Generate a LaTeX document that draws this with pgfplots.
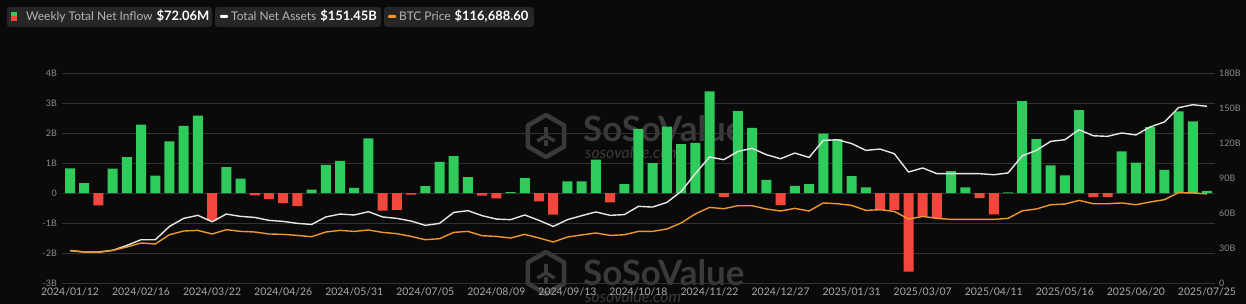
\documentclass[border=0pt]{standalone}
\usepackage{pgfplots}
\pgfplotsset{compat=1.18}
\usepackage{pgfplotstable}
\usepackage{fontspec}
\setmainfont{Lato}
\definecolor{bg}{HTML}{0A0A0A}
\definecolor{gridc}{HTML}{323232}
\definecolor{tickc}{HTML}{8A8A8A}
\definecolor{xtickc}{HTML}{A8A8A8}
\definecolor{upc}{HTML}{2FCB5B}
\definecolor{downc}{HTML}{F2473D}
\definecolor{btcc}{HTML}{F0962C}
\definecolor{tnac}{HTML}{E6E6E6}
\definecolor{legbg}{HTML}{262626}
\definecolor{legtxt}{HTML}{B4B4B4}
\definecolor{wm}{HTML}{3A3A3A}

\pgfplotstableread{
i flow assets btc
0 0.82 27.7 42700
1 0.33 26.6 40600
2 -0.41 26.6 40100
3 0.81 28.0 42700
4 1.20 32.2 47100
5 2.28 37.1 52400
6 0.58 37.1 51100
7 1.72 48.5 63200
8 2.24 55.4 68100
9 2.58 58.0 68900
10 -0.92 52.5 64200
11 0.86 59.1 69800
12 0.48 57.1 67600
13 -0.08 56.2 66800
14 -0.20 53.7 64200
15 -0.33 52.8 63700
16 -0.44 51.1 62300
17 0.11 50.2 60600
18 0.94 56.6 66800
19 1.07 59.1 68900
20 0.17 58.3 67600
21 1.82 61.1 69400
22 -0.59 56.6 66300
23 -0.56 55.4 64600
24 -0.05 53.1 61000
25 0.23 49.4 56700
26 1.04 51.1 58000
27 1.23 60.5 66300
28 0.53 62.0 67600
29 -0.09 57.7 61900
30 -0.18 54.8 61000
31 0.03 54.3 58900
32 0.50 58.3 63700
33 -0.28 53.7 58900
34 -0.72 48.5 53700
35 0.39 54.3 60200
36 0.39 57.7 62900
37 1.11 60.9 65500
38 -0.31 58.0 62300
39 0.30 58.6 63200
40 2.14 65.7 67600
41 1.00 65.1 67600
42 2.21 69.1 70700
43 1.63 78.5 78600
44 1.67 93.7 90500
45 3.39 108.0 99000
46 -0.13 105.7 97300
47 2.73 112.8 101200
48 2.17 115.4 101200
49 0.44 110.0 96900
50 -0.40 106.5 94300
51 0.24 111.4 97700
52 0.30 107.6 94300
53 1.98 122.2 104800
54 1.80 122.8 103800
55 0.56 119.5 101600
56 0.19 113.7 95100
57 -0.56 114.8 96000
58 -0.56 110.8 93800
59 -2.62 95.1 83800
60 -0.78 98.6 87200
61 -0.83 93.7 84600
62 0.73 93.7 83300
63 0.19 93.7 83300
64 -0.17 93.7 83300
65 -0.71 92.8 83300
66 0.02 94.3 84600
67 3.06 109.0 94500
68 1.80 113.7 96900
69 0.92 121.4 102500
70 0.59 122.8 103400
71 2.76 131.4 108200
72 -0.14 126.2 103800
73 -0.13 125.7 103800
74 1.39 128.6 104800
75 1.01 126.9 102500
76 2.20 133.8 106100
77 0.77 138.0 109100
78 2.72 150.3 118300
79 2.39 152.8 117900
80 0.07 151.45 116688.6
}\data

\begin{document}
\begin{tikzpicture}
% background
\fill[bg] (-62bp,-21bp) rectangle (1184bp,283bp);
% watermarks
\begin{scope}
\clip (-62bp,-21bp) rectangle (1184bp,283bp);
\foreach \yy/\ty in {147/154, 10/10} {
  \begin{scope}[shift={(484bp,\yy bp)}]
    \draw[wm, line width=4.5bp, line join=round] (90:21bp) -- (30:21bp) -- (-30:21bp) -- (-90:21bp) -- (-150:21bp) -- (150:21bp) -- cycle;
    \draw[wm, line width=3.5bp, line join=round] (-150:10bp) -- (0,0) -- (-30:10bp);
    \draw[wm, line width=3.5bp] (0,0) -- (90:9bp);
    \draw[wm, line width=3.5bp] (-90:10bp) -- (-90:4bp);
  \end{scope}
  \node[wm, anchor=west, inner sep=0pt, font=\fontsize{35}{36}\selectfont\bfseries] at (521bp,\ty bp) {SoSoValue};
}
\node[wm, anchor=west, inner sep=0pt, font=\fontsize{16}{18}\selectfont\itshape] at (523bp,130bp) {sosovalue.com};
\node[wm, anchor=west, inner sep=0pt, font=\fontsize{16}{18}\selectfont\itshape] at (523bp,-14bp) {sosovalue.com};
\end{scope}

% main axis: bars
\begin{axis}[
  at={(0,0)}, anchor=south west,
  scale only axis, width=1153bp, height=210bp,
  xmin=-0.563, xmax=80.563,
  ymin=-3, ymax=4,
  axis line style={draw=none},
  major tick length=0pt,
  ytick={-3,-2,...,4},
  yticklabels={-3B,-2B,-1B,0,1B,2B,3B,4B},
  ymajorgrids, grid style={gridc, line width=0.8bp},
  xtick={0,5,...,80},
  xticklabels={2024/01/12,2024/02/16,2024/03/22,2024/04/26,2024/05/31,2024/07/05,2024/08/09,2024/09/13,2024/10/18,2024/11/22,2024/12/27,2025/01/31,2025/03/07,2025/04/11,2025/05/16,2025/06/20,2025/07/25},
  xticklabel style={xtickc, font=\fontsize{10.5}{12}\selectfont, anchor=north, inner sep=0pt, yshift=-5bp},
  yticklabel style={tickc, font=\fontsize{9}{10}\selectfont, anchor=east, inner sep=0pt, xshift=-5bp},
  /pgf/number format/assume math mode=true,
  clip=false,
]
\addplot[ybar, bar width=10bp, bar shift=0pt, fill=upc, draw=none, restrict y to domain=0:10] table[x=i,y=flow]{\data};
\addplot[ybar, bar width=10bp, bar shift=0pt, fill=downc, draw=none, restrict y to domain=-10:0] table[x=i,y=flow]{\data};
\end{axis}

% right axis: total net assets
\begin{axis}[
  at={(0,0)}, anchor=south west,
  scale only axis, width=1153bp, height=210bp,
  xmin=-0.563, xmax=80.563,
  ymin=0, ymax=180,
  axis y line*=right, hide x axis,
  axis line style={draw=none},
  major tick length=0pt,
  ytick={0,30,...,180},
  yticklabels={0,30B,60B,90B,120B,150B,180B},
  yticklabel style={tickc, font=\fontsize{9}{10}\selectfont, anchor=west, inner sep=0pt, xshift=4bp},
  /pgf/number format/assume math mode=true,
]
\addplot[tnac, line width=1.4bp, line join=round] table[x=i,y=assets]{\data};
\end{axis}

% hidden axis: BTC price
\begin{axis}[
  at={(0,0)}, anchor=south west,
  scale only axis, width=1153bp, height=210bp,
  xmin=-0.563, xmax=80.563,
  ymin=0, ymax=275000,
  hide axis,
]
\addplot[btcc, line width=1.4bp, line join=round] table[x=i,y=btc]{\data};
\end{axis}

% legend boxes
\fill[legbg, rounded corners=3bp] (-55bp,256bp) rectangle (150bp,276bp);
\fill[upc] (-51bp,266.5bp) rectangle (-45bp,271bp);
\fill[downc] (-51bp,262bp) rectangle (-45bp,266.5bp);
\node[anchor=base west, inner sep=0pt] at (-36bp,262bp) {\fontsize{12}{14}\selectfont\color{legtxt}Weekly Total Net Inflow\hspace{4bp}\color{white}\fontsize{13}{14}\selectfont\bfseries \$72.06M};

\fill[legbg, rounded corners=3bp] (153bp,256bp) rectangle (319bp,276bp);
\fill[white, rounded corners=1bp] (158bp,265bp) rectangle (166bp,268bp);
\node[anchor=base west, inner sep=0pt] at (169bp,262bp) {\fontsize{12}{14}\selectfont\color{legtxt}Total Net Assets\hspace{4bp}\color{white}\fontsize{13}{14}\selectfont\bfseries \$151.45B};

\fill[legbg, rounded corners=3bp] (322bp,256bp) rectangle (472bp,276bp);
\fill[btcc, rounded corners=1bp] (326bp,265bp) rectangle (334bp,268bp);
\node[anchor=base west, inner sep=0pt] at (337bp,262bp) {\fontsize{12}{14}\selectfont\color{legtxt}BTC Price\hspace{4bp}\color{white}\fontsize{13}{14}\selectfont\bfseries \$116,688.60};

\pgfresetboundingbox
\useasboundingbox (-62bp,-21bp) rectangle (1184bp,283bp);
\end{tikzpicture}
\end{document}
